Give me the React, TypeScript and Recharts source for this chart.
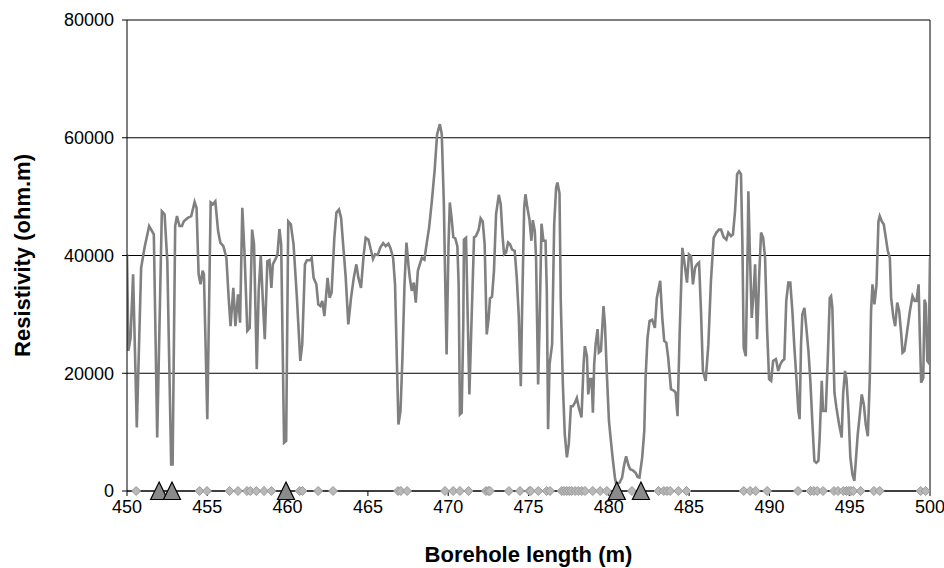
import { ComposedChart, Line, Scatter, XAxis, YAxis, CartesianGrid, ReferenceLine } from "recharts";

// borehole depth (m) of each logged vertex
const depth = [
  450.0, 450.09, 450.22, 450.38, 450.61, 450.88, 451.09, 451.38, 451.67, 451.88,
  452.17, 452.34, 452.51, 452.75, 452.84, 453.0, 453.11, 453.27, 453.42, 453.54,
  453.79, 454.0, 454.21, 454.33, 454.46, 454.58, 454.71, 454.79, 455.0, 455.21,
  455.35, 455.5, 455.67, 455.81, 456.0, 456.19, 456.33, 456.45, 456.62, 456.75,
  456.91, 457.04, 457.18, 457.33, 457.49, 457.64, 457.79, 457.91, 458.08, 458.2,
  458.33, 458.45, 458.58, 458.74, 458.87, 458.99, 459.08, 459.28, 459.37, 459.49,
  459.6, 459.78, 459.91, 460.04,
  460.2, 460.37, 460.58, 460.79, 460.91, 461.08, 461.2, 461.41, 461.5, 461.62,
  461.79, 461.91, 462.04, 462.16, 462.29, 462.49, 462.62, 462.74, 462.91, 463.04,
  463.2, 463.33, 463.49, 463.62, 463.78, 463.95, 464.12, 464.28, 464.41, 464.57,
  464.74, 464.86, 465.03, 465.2, 465.32, 465.45, 465.61, 465.78, 465.95, 466.11,
  466.28, 466.4, 466.57, 466.69, 466.82, 466.9, 467.03, 467.15, 467.28, 467.4,
  467.53, 467.61, 467.73, 467.86, 467.98, 468.11, 468.23, 468.36, 468.52, 468.65,
  468.81, 468.98, 469.15, 469.31, 469.48, 469.6, 469.73, 469.81, 469.9, 470.02,
  470.1,
  470.21, 470.32, 470.44, 470.57, 470.65, 470.73, 470.84, 470.94, 470.98, 471.11,
  471.19, 471.32, 471.44, 471.61, 471.73, 471.9, 472.02, 472.15, 472.27, 472.4,
  472.52, 472.6, 472.73, 472.85, 472.98, 473.15, 473.27, 473.39, 473.48, 473.6,
  473.73, 473.85, 473.98, 474.14, 474.27, 474.39, 474.52, 474.6, 474.73, 474.81,
  474.93, 475.06, 475.18, 475.27, 475.39, 475.47, 475.6, 475.68, 475.81, 475.93,
  476.06, 476.14, 476.22, 476.31, 476.47, 476.6, 476.72, 476.8, 476.93, 477.01,
  477.14, 477.26, 477.39, 477.51, 477.64, 477.76, 477.89, 478.01, 478.13, 478.3,
  478.43, 478.51, 478.64, 478.72, 478.84, 478.93, 479.01, 479.09, 479.18, 479.3,
  479.38, 479.51, 479.67, 479.76, 479.88, 480.01, 480.13, 480.26, 480.38,
  480.46, 480.67, 480.83, 480.96, 481.08, 481.21, 481.33, 481.5, 481.67, 481.79,
  481.91, 482.08, 482.21, 482.29, 482.41, 482.54, 482.7, 482.87, 482.99, 483.2,
  483.33, 483.45, 483.58, 483.7, 483.87, 484.08, 484.16, 484.28, 484.41, 484.58,
  484.7, 484.87, 484.99, 485.12, 485.24, 485.37, 485.49, 485.62, 485.74, 485.86,
  486.03, 486.2, 486.36, 486.53, 486.7, 486.86, 486.99, 487.15, 487.32, 487.44,
  487.61, 487.73, 487.86, 487.99, 488.11, 488.23, 488.32, 488.4, 488.53, 488.65,
  488.69, 488.78, 488.9, 489.02, 489.11, 489.23, 489.36, 489.48, 489.61, 489.73,
  489.86, 489.98, 490.11, 490.23, 490.4,
  490.43, 490.55, 490.68, 490.8, 490.93, 491.05, 491.18, 491.3, 491.43, 491.55,
  491.68, 491.8, 491.88, 491.97, 492.05, 492.18, 492.3, 492.43, 492.55, 492.67,
  492.8, 492.92, 493.05, 493.13, 493.26, 493.34, 493.42, 493.51, 493.63, 493.76,
  493.84, 493.92, 494.05, 494.17, 494.34, 494.5, 494.59, 494.71, 494.8, 494.92,
  495.04, 495.17, 495.29, 495.38, 495.5, 495.63, 495.75, 495.88, 496.0, 496.13,
  496.25, 496.33, 496.42, 496.54, 496.67, 496.79, 496.87, 497.0, 497.12, 497.25,
  497.37, 497.5, 497.58, 497.71, 497.83, 497.96, 498.08, 498.21, 498.29, 498.41,
  498.58, 498.75, 498.91, 499.04, 499.16, 499.29, 499.37, 499.45, 499.58, 499.66,
  499.74, 499.83, 499.91, 500.0,
];

// resistivity (ohm.m) at each depth above
const resistivity = [
  40200, 23800, 26000, 36800, 10800, 37900, 41300, 45000, 43600, 9100,
  47500, 47000, 39000, 4500, 4500, 45000, 46700, 45000, 45000, 45800,
  46400, 46700, 49100, 48100, 36800, 35100, 37400, 36800, 12200, 49000,
  48700, 49200, 44200, 42200, 41600, 39600, 32800, 28000, 34500, 28000,
  33400, 28600, 48100, 39600, 27200, 27700, 44400, 41900, 20700, 34000,
  40000, 32800, 25800, 39000, 39200, 34500, 38500, 39600, 40200, 44500,
  41900, 8200, 8500, 45800,
  45300, 41900, 32800, 22100, 24900, 38500, 39200, 39200, 39600, 36200,
  35100, 31700, 31400, 32300, 29700, 36200, 32800, 33700, 43000, 47300,
  47800, 46400, 40800, 36200, 28300, 32800, 36200, 38500, 36200, 34500,
  40200, 43000, 42700, 40800, 39400, 40200, 40100, 41400, 42100, 41600,
  42000, 41300, 39600, 35100, 20400, 11300, 13600, 22600, 35100, 42200,
  38200, 36200, 34000, 35400, 32000, 37400, 38500, 39600, 39300, 41900,
  44700, 49200, 54300, 60600, 62300, 60600, 48700, 36200, 23200, 41900,
  49000,
  46400, 43100, 42900, 41600, 35100, 13000, 13300, 28300, 42700, 43000,
  32800, 16400, 27700, 43100, 43300, 44400, 46300, 45800, 41900, 26600,
  29400, 32700, 33000, 37400, 47000, 50300, 48700, 43100, 40200, 40500,
  42200, 41900, 41000, 40800, 36200, 30000, 17800, 30600, 48100, 50400,
  48100, 46100, 42500, 46000, 44200, 39600, 18100, 27200, 45400, 42500,
  42500, 34000, 10500, 21500, 24900, 45300, 51500, 52400, 50600, 32300,
  18100, 9600, 5700, 8000, 14400, 14400, 15000, 15800, 14200, 12500,
  21500, 24600, 22900, 16400, 19000, 19000, 13300, 21500, 24900, 27500,
  23500, 23800, 31400, 28300, 19800, 11900, 8500, 5100, 2300,
  1200, 1400, 2300, 4500, 5900, 4500, 3700, 3500, 3100, 2400,
  2300, 5700, 10200, 19200, 26000, 28900, 29100, 27700, 32800, 35700,
  29400, 25500, 25200, 22600, 17300, 17000, 16700, 12700, 26600, 41300,
  39000, 35400, 40200, 39900, 35100, 37900, 38500, 38800, 30600, 20400,
  18700, 24900, 35700, 43000, 43900, 44400, 44400, 43100, 42700, 43900,
  43300, 43600, 47500, 53800, 54300, 53800, 41900, 24300, 22900, 41900,
  50900, 40800, 29400, 33900, 38500, 25800, 36200, 43900, 43000, 39600,
  27200, 19000, 18700, 22100, 22400,
  22100, 20400, 21500, 22100, 22400, 32300, 35400, 35400, 30600, 24600,
  19200, 13600, 12200, 24900, 30000, 31100, 27700, 23800, 18700, 11900,
  5100, 4800, 5100, 9100, 18700, 13600, 13600, 13600, 22100, 32800,
  33100, 31100, 16700, 14200, 11300, 9100, 16400, 20400, 19000, 13600,
  5700, 2800, 1700, 5100, 9600, 13000, 16400, 14700, 11300, 9300,
  19000, 30600, 35100, 31700, 35100, 45800, 46700, 45800, 45300, 43000,
  40800, 39600, 32800, 29700, 28000, 32000, 30600, 26600, 23500, 23800,
  27200, 30600, 33100, 32300, 32300, 35100, 26000, 18400, 19200, 32500,
  31700, 22100, 21800, 39600,
];

// small diamond marks on the zero line
const diamondDepths = [
  450.57, 454.52, 454.98, 456.39, 456.91, 457.47, 457.68, 458.05, 458.53, 458.99,
  460.75, 460.92, 461.9, 462.83, 466.88, 467.05, 467.44, 469.8, 470.31, 470.73,
  471.27, 472.35, 472.5, 472.6, 473.78, 474.47, 475.05, 475.14, 475.61, 476.13,
  476.34, 477.07, 477.21, 477.38, 477.54, 477.69, 477.9, 478.1, 478.32, 478.52,
  479.0, 479.46, 479.88, 481.44, 483.1, 483.42, 483.62, 483.82, 484.33, 484.84,
  488.4, 488.8, 489.15, 489.86, 491.78, 492.56, 492.77, 492.98, 493.34, 494.02,
  494.27, 494.6, 494.8, 494.95, 495.08, 495.22, 495.68, 496.51, 496.87, 499.42,
  499.73,
];

// larger triangle marks on the zero line
const triangleDepths = [452.0, 452.8, 459.9, 480.5, 482.0];

const xTicks = [450, 455, 460, 465, 470, 475, 480, 485, 490, 495, 500];
const yTicks = [0, 20000, 40000, 60000, 80000];

const lineData = depth.map((d, i) => ({ depth: d, res: resistivity[i] }));
const diamondData = diamondDepths.map((d) => ({ depth: d, level: 0 }));
const triangleData = triangleDepths.map((d) => ({ depth: d, level: 0 }));

const DiamondMark = (props: any) => {
  const { cx, cy } = props;
  const r = 4.5;
  return (
    <polygon
      points={`${cx},${cy - r} ${cx + r},${cy} ${cx},${cy + r} ${cx - r},${cy}`}
      fill="#b8b8b8"
      stroke="#9a9a9a"
      strokeWidth={1}
    />
  );
};

const TriangleMark = (props: any) => {
  const { cx, cy } = props;
  return (
    <polygon
      points={`${cx},${cy - 9} ${cx + 8.5},${cy + 8.5} ${cx - 8.5},${cy + 8.5}`}
      fill="#8a8a8a"
      stroke="#000"
      strokeWidth={1.2}
    />
  );
};

const tickStyle = { fill: "#000", fontSize: 18 };
const titleStyle = { fill: "#000", fontSize: 22, fontWeight: "bold" as const, textAnchor: "middle" as const };

export default function App() {
  return (
    <div style={{ position: "absolute", left: 0, top: 0, width: 944, height: 568, background: "#fff", fontFamily: "'Liberation Sans', Arial, sans-serif" }}>
      <ComposedChart width={944} height={568} margin={{ top: 20, right: 14, bottom: 0, left: 0 }}>
        <CartesianGrid vertical={false} stroke="#000" strokeWidth={1} />
        <XAxis
          dataKey="depth"
          type="number"
          domain={[450, 500]}
          ticks={xTicks}
          allowDataOverflow
          height={77}
          stroke="#000"
          tickSize={5}
          tickMargin={4}
          tick={tickStyle}
          label={{ value: "Borehole length (m)", position: "insideBottom", offset: 6, style: titleStyle }}
        />
        <YAxis
          type="number"
          domain={[0, 80000]}
          ticks={yTicks}
          width={127}
          stroke="#000"
          tickSize={5}
          tickMargin={8}
          tick={tickStyle}
          label={{ value: "Resistivity (ohm.m)", angle: -90, position: "insideLeft", offset: 22, style: titleStyle }}
        />
        <ReferenceLine x={500} stroke="#000" strokeWidth={1} />
        <Line
          data={lineData}
          dataKey="res"
          type="linear"
          stroke="#808080"
          strokeWidth={2.6}
          dot={false}
          isAnimationActive={false}
        />
        <Scatter data={diamondData} dataKey="level" shape={DiamondMark} isAnimationActive={false} />
        <Scatter data={triangleData} dataKey="level" shape={TriangleMark} isAnimationActive={false} />
      </ComposedChart>
    </div>
  );
}
